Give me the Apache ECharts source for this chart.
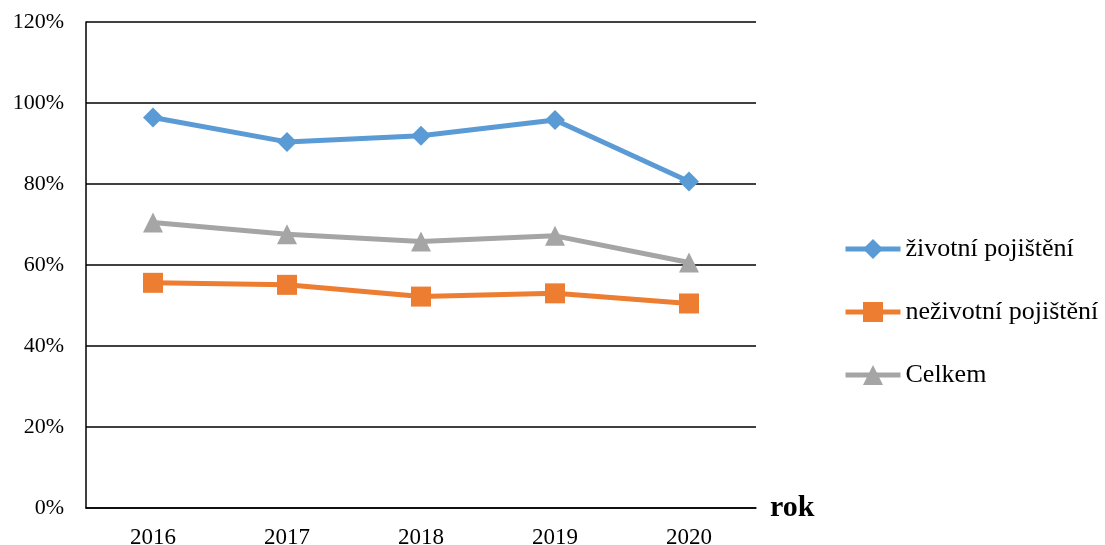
<!DOCTYPE html>
<html><head><meta charset="utf-8">
<script src="https://cdn.jsdelivr.net/npm/echarts@6/dist/echarts.min.js"></script>
<style>html,body{margin:0;padding:0;background:#fff}#c{width:1105px;height:545px}</style>
</head><body><div id="c"></div>
<script>
const categories = ['2016','2017','2018','2019','2020'];
const zivotni = [96.4, 90.4, 91.9, 95.8, 80.6];
const nezivotni = [55.6, 55.1, 52.2, 53.0, 50.5];
const celkem = [70.5, 67.6, 65.8, 67.2, 60.6];
const seriesNames = ['životní pojištění','neživotní pojištění','Celkem'];
const yTicks = [0,20,40,60,80,100,120];

const font = 'Liberation Serif, Times New Roman, serif';
const chart = echarts.init(document.getElementById('c'));
chart.setOption({
  animation:false,
  grid:{left:86,right:349,top:22,bottom:37,containLabel:false,outerBoundsMode:'none'},
  legend:{
    orient:'vertical', left:843, top:236, itemGap:37, padding:0,
    itemWidth:55, itemHeight:25,
    textStyle:{fontFamily:font,fontSize:26,color:'#000'},
    lineStyle:{width:5},
    data:seriesNames
  },
  xAxis:{
    type:'category', data:categories, boundaryGap:true,
    axisLine:{lineStyle:{color:'#000',width:1.5}},
    axisTick:{show:false},
    axisLabel:{fontFamily:font,fontSize:23,color:'#000',margin:18},
    name:'rok', nameLocation:'end', nameGap:14,
    nameTextStyle:{fontFamily:font,fontSize:30,fontWeight:'bold',color:'#000',verticalAlign:'middle',padding:[4,0,0,0]}
  },
  yAxis:{
    type:'value', min:0, max:120, interval:20,
    axisLine:{show:true,lineStyle:{color:'#000',width:1.5}},
    axisTick:{show:false},
    splitLine:{lineStyle:{color:'#000',width:1.5}},
    axisLabel:{fontFamily:font,fontSize:22,color:'#000',margin:22,formatter:v=>v+'%'}
  },
  series:[
    {name:seriesNames[0],type:'line',data:zivotni,symbol:'diamond',symbolSize:20,
     lineStyle:{width:5,color:'#5b9bd5'},itemStyle:{color:'#5b9bd5'}},
    {name:seriesNames[1],type:'line',data:nezivotni,symbol:'rect',symbolSize:20,
     lineStyle:{width:5,color:'#ed7d31'},itemStyle:{color:'#ed7d31'}},
    {name:seriesNames[2],type:'line',data:celkem,symbol:'triangle',symbolSize:20,
     lineStyle:{width:5,color:'#a5a5a5'},itemStyle:{color:'#a5a5a5'}}
  ]
});
</script></body></html>
